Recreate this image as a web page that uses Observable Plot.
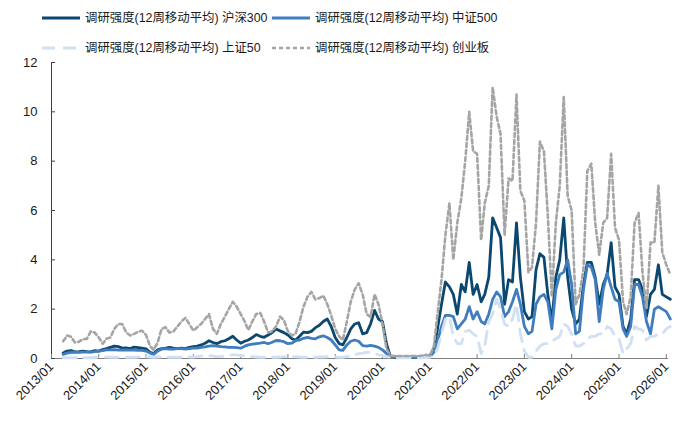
<!DOCTYPE html>
<html><head><meta charset="utf-8">
<script src="https://cdn.jsdelivr.net/npm/d3@7"></script>
<script src="https://cdn.jsdelivr.net/npm/@observablehq/plot@0.6"></script>
<style>
body{margin:0;background:#fff;}
#legend{position:relative;height:50px;width:680px;font-family:"Liberation Sans","Noto Sans CJK SC",sans-serif;font-size:12.4px;color:#1a1a1a;}
.item{position:absolute;display:flex;align-items:center;height:16px;line-height:16px;white-space:nowrap;}
.item svg{margin-right:5px;}
</style></head><body>
<div id="legend"></div><div id="chart"></div>
<script>
// Monthly sampling, first point 2013-04, last point 2026-02
const firstMonth = "2013-04-01";
const lastMonth = "2026-02-01";
const seriesNames = ["调研强度(12周移动平均) 沪深300","调研强度(12周移动平均) 中证500","调研强度(12周移动平均) 上证50","调研强度(12周移动平均) 创业板"];
const xTickYears = [2013,2014,2015,2016,2017,2018,2019,2020,2021,2022,2023,2024,2025,2026];
const yTicks = [0,2,4,6,8,10,12];

const hs300 = [
0.22,0.3,0.32,0.27,0.28,0.3,0.28,0.27,0.32,0.3,
0.36,0.4,0.45,0.5,0.48,0.42,0.43,0.4,0.46,0.44,0.42,0.39,
0.25,0.2,0.35,0.4,0.42,0.45,0.42,0.4,0.42,0.4,0.45,0.48,
0.5,0.55,0.62,0.72,0.65,0.6,0.68,0.72,0.8,0.9,0.75,0.62,
0.7,0.75,0.85,0.97,0.9,0.86,0.95,1.05,1.2,1.12,1.05,0.95,
0.8,0.75,0.9,1.07,1.05,1.1,1.25,1.35,1.5,1.6,1.3,0.85,
0.6,0.55,0.85,1.2,1.4,1.45,1.0,1.05,1.4,1.95,1.6,1.5,
0.6,0.1,0.06,0.05,0.05,0.05,0.05,0.05,0.05,0.05,0.06,
0.1,0.4,1.2,2.2,3.1,2.9,2.6,1.8,3.0,2.7,3.9,2.6,
3.0,2.3,2.6,3.3,5.7,5.3,4.9,2.2,3.2,3.1,5.5,3.3,
1.9,1.6,1.7,3.6,4.25,4.1,2.6,1.5,3.3,4.0,5.7,3.3,
2.0,1.4,1.6,3.0,3.9,3.9,3.3,2.2,3.0,3.4,4.7,2.9,
2.6,1.3,1.0,1.6,3.2,3.2,2.8,1.7,2.6,2.8,3.8,2.6,
2.5,2.4];
const zz500 = [
0.17,0.22,0.25,0.26,0.25,0.26,0.26,0.26,0.28,0.3,
0.32,0.35,0.35,0.36,0.34,0.34,0.35,0.34,0.34,0.33,0.33,0.3,
0.22,0.17,0.3,0.38,0.4,0.38,0.38,0.4,0.4,0.38,0.4,0.42,
0.42,0.45,0.47,0.5,0.52,0.5,0.48,0.47,0.45,0.45,0.44,0.42,
0.5,0.55,0.58,0.6,0.62,0.65,0.6,0.66,0.73,0.72,0.68,0.6,
0.62,0.72,0.75,0.82,0.86,0.82,0.8,0.88,0.92,0.85,0.75,0.55,
0.35,0.33,0.55,0.7,0.75,0.7,0.52,0.5,0.53,0.5,0.45,0.35,
0.2,0.1,0.06,0.05,0.05,0.05,0.05,0.05,0.05,0.05,0.06,
0.08,0.25,0.7,1.3,1.75,1.75,1.7,1.2,1.4,1.6,2.1,1.6,
1.9,1.5,1.4,1.8,2.4,2.7,2.5,1.7,1.9,2.3,2.8,2.2,
1.3,1.0,1.1,2.2,2.5,2.6,2.3,1.2,2.8,3.4,3.5,4.0,
3.0,1.0,1.1,2.8,3.8,3.7,3.2,1.5,2.8,3.45,2.9,2.4,
2.3,1.2,0.9,1.3,3.0,3.0,2.5,1.5,1.0,2.0,2.1,2.0,
1.9,1.6];
const sz50 = [
0.03,0.03,0.03,0.03,0.03,0.03,0.03,0.03,0.04,0.05,
0.05,0.06,0.05,0.05,0.05,0.06,0.05,0.05,0.05,0.06,0.08,0.07,
0.06,0.05,0.06,0.06,0.05,0.05,0.05,0.05,0.05,0.05,0.06,0.06,
0.08,0.1,0.12,0.12,0.1,0.08,0.08,0.1,0.12,0.15,0.15,0.12,
0.12,0.1,0.08,0.06,0.05,0.05,0.05,0.05,0.05,0.06,0.08,0.08,
0.08,0.07,0.06,0.05,0.05,0.05,0.05,0.06,0.06,0.07,0.07,0.06,
0.05,0.05,0.08,0.12,0.15,0.2,0.22,0.25,0.25,0.22,0.15,0.12,
0.08,0.05,0.03,0.03,0.03,0.03,0.03,0.03,0.03,0.03,0.04,
0.05,0.1,0.4,1.0,1.6,1.7,0.9,0.6,0.6,1.1,1.15,1.0,
0.9,0.2,0.5,1.5,1.8,2.4,2.0,1.4,1.3,1.6,2.2,1.0,
0.3,0.05,0.05,0.3,0.5,0.6,0.6,0.7,0.8,0.9,1.4,1.3,
1.0,0.5,0.5,0.6,0.8,0.9,0.9,1.0,1.0,1.3,1.2,0.9,
0.8,0.2,0.4,0.6,1.3,1.2,1.15,0.75,0.9,0.9,1.0,1.0,
1.2,1.3];
const cyb = [
0.7,0.93,0.88,0.65,0.68,0.78,0.8,1.1,1.05,0.85,
0.6,0.8,0.85,1.2,1.4,1.4,1.05,0.93,1.0,1.08,1.13,0.95,
0.5,0.35,0.65,1.2,1.27,1.05,1.1,1.3,1.5,1.65,1.4,1.13,
1.27,1.4,1.6,1.8,1.2,1.0,1.4,1.7,2.0,2.3,2.1,1.8,
1.5,1.15,1.5,1.8,1.85,1.5,1.05,1.1,1.3,1.7,1.55,1.1,
0.93,1.0,1.5,2.1,2.5,2.7,2.4,2.45,2.55,2.2,1.75,1.2,
0.9,0.75,1.5,2.3,2.8,3.05,2.6,1.8,1.68,2.6,2.2,1.4,
0.4,0.12,0.1,0.1,0.1,0.1,0.1,0.1,0.1,0.12,0.15,
0.12,0.5,1.8,3.2,5.0,6.3,4.0,5.5,6.5,8.0,10.0,8.4,
8.3,4.8,6.3,7.0,11.0,9.8,9.1,5.0,7.3,7.2,10.7,6.8,
6.4,3.5,3.7,5.5,8.8,8.4,5.8,2.5,5.5,7.0,10.6,6.6,
6.0,2.2,2.6,3.6,7.6,7.9,5.5,4.2,5.5,5.7,8.3,5.3,
4.8,2.3,1.8,2.5,5.5,5.9,3.5,2.0,4.7,4.7,7.0,4.3,
3.8,3.4];

const colors = ["#0b4870","#3f7dbf","#cfe1f2","#a5a5a5"];
const dashes = [null,null,"13,8","4,3"];
const widths = [2.8,2.8,2.8,2.6];

const dates = d3.utcMonth.range(new Date(firstMonth), d3.utcMonth.offset(new Date(lastMonth),1));
const seriesValues = [hs300, zz500, sz50, cyb];

// legend
const legend = document.getElementById("legend");
const pos = [[42,10],[272,10],[42,40],[272,40]];
seriesNames.forEach((name,i)=>{
  const div = document.createElement("div");
  div.className = "item";
  div.style.left = pos[i][0]+"px"; div.style.top = pos[i][1]+"px";
  div.innerHTML = `<svg width="38" height="6"><line x1="0" x2="38" y1="3" y2="3" stroke="${colors[i]}" stroke-width="${widths[i]}" ${dashes[i]?`stroke-dasharray="${dashes[i]}"`:""}/></svg><span>${name}</span>`;
  legend.appendChild(div);
});

const x0 = new Date("2013-01-01"), x1 = new Date("2026-01-18");
const marks = [
  Plot.ruleY([0], {stroke:"#808080", strokeWidth:1.2}),
  Plot.ruleX([x0], {stroke:"#404040", strokeWidth:1}),
  Plot.axisY({ticks: yTicks, tickSize:-4, tickPadding:18, fontSize:13, stroke:"#404040"}),
  Plot.axisX({ticks: xTickYears.map(y=>new Date(`${y}-01-01`)), tickFormat: d3.utcFormat("%Y/%m"), tickRotate:-45, tickSize:-4, tickPadding:10, fontSize:13, stroke:"#808080"})
];
[0,1,2,3].forEach(i=>{
  marks.push(Plot.line(seriesValues[i], {x:(d,j)=>dates[j], y:d=>d, stroke:colors[i], strokeWidth:widths[i], strokeDasharray:dashes[i]||undefined, curve:"linear"}));
});

const chart = Plot.plot({
  width:680, height:371,
  marginLeft:51, marginRight:12, marginTop:12, marginBottom:63,
  style:{fontFamily:"Liberation Sans, Arial, sans-serif", fontSize:"13px", color:"#1a1a1a", background:"#fff", overflow:"visible"},
  x:{type:"utc", domain:[x0,x1]},
  y:{domain:[0,12]},
  marks
});
document.getElementById("chart").appendChild(chart);
</script>
</body></html>
